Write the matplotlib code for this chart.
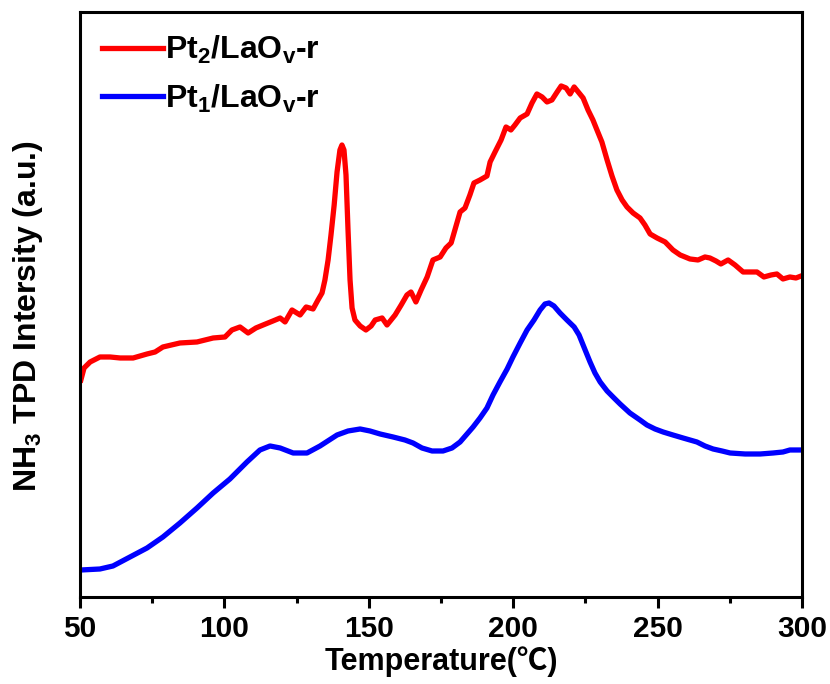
import matplotlib
matplotlib.use("Agg")
import matplotlib.pyplot as plt
from matplotlib.ticker import MultipleLocator

plt.rcParams['font.family'] = ['Liberation Sans', 'DejaVu Sans']
plt.rcParams['font.weight'] = 'bold'
plt.rcParams['mathtext.fontset'] = 'custom'
plt.rcParams['mathtext.rm'] = 'Liberation Sans:bold'
plt.rcParams['mathtext.it'] = 'Liberation Sans:bold'
plt.rcParams['mathtext.bf'] = 'Liberation Sans:bold'
plt.rcParams['mathtext.default'] = 'bf'

# Pt2/LaOv-r
t_pt2 = [50.3, 51.4, 53.5, 56.9, 60.4, 63.9, 68.4, 73.2, 76.0, 78.7, 84.6, 90.5, 96.1, 100.2,
         102.6, 105.4, 108.2, 110.9, 113.4, 116.8, 119.3, 121.0, 123.4, 126.2, 128.3, 130.7,
         132.4, 133.8, 134.8, 135.9, 136.9, 138.0, 139.0, 140.0, 140.7, 141.4, 142.1, 142.8,
         143.5, 144.2, 145.2, 147.0, 149.0, 150.8, 152.2, 154.6, 156.3, 159.1, 161.2, 163.2,
         164.6, 166.3, 168.1, 170.2, 172.2, 174.7, 176.7, 178.5, 179.8, 181.6, 183.3, 185.0,
         186.4, 188.5, 190.9, 192.0, 193.7, 195.8, 197.5, 199.2, 200.6, 202.4, 204.8, 206.5,
         208.2, 210.0, 211.7, 213.4, 215.2, 216.6, 218.3, 219.7, 221.1, 222.8, 224.2, 225.9,
         227.6, 229.0, 230.7, 232.5, 234.2, 235.9, 237.7, 239.4, 241.5, 243.9, 245.6, 247.4,
         249.8, 252.6, 255.3, 257.8, 261.2, 264.0, 266.4, 268.1, 270.2, 271.9, 274.4, 276.8,
         279.6, 282.0, 284.4, 286.8, 289.3, 291.3, 293.4, 295.8, 297.9, 299.7]
i_pt2 = [220, 232, 238, 243, 243, 242, 242, 246, 248, 253, 257, 258, 262, 263,
         270, 273, 267, 272, 275, 279, 282, 278, 290, 285, 293, 291,
         300, 307, 320, 340, 365, 395, 428, 450, 455, 450, 425, 370,
         320, 292, 280, 274, 270, 274, 280, 282, 275, 285, 295, 305,
         308, 298, 310, 323, 340, 343, 352, 357, 370, 388, 392, 405,
         417, 420, 424, 438, 448, 460, 473, 470, 475, 482, 486, 497,
         506, 503, 498, 500, 508, 514, 512, 506, 513, 507, 502, 490,
         480, 470, 458, 440, 424, 410, 400, 393, 387, 382, 375, 366,
         362, 358, 350, 345, 341, 340, 343, 342, 339, 336, 340, 335,
         328, 328, 328, 323, 325, 326, 321, 323, 322, 324]

# Pt1/LaOv-r
t_pt1 = [50.3, 56.9, 61.4, 67.3, 73.2, 78.7, 84.6, 90.5, 96.1, 101.9, 107.8, 112.3, 115.8,
         119.3, 123.8, 128.6, 133.1, 139.0, 142.8, 147.0, 150.4, 153.9, 158.4, 162.5, 165.3,
         168.4, 171.9, 175.7, 178.8, 181.6, 186.1, 188.5, 190.9, 193.0, 195.4, 197.9, 199.9,
         202.4, 204.8, 207.2, 209.3, 211.0, 212.4, 214.1, 216.2, 218.6, 221.1, 222.8, 224.9,
         226.6, 228.3, 230.1, 232.5, 234.9, 237.0, 240.4, 243.9, 246.3, 249.1, 251.9, 255.3,
         258.8, 263.6, 266.4, 269.2, 272.3, 275.1, 280.3, 285.5, 290.0, 293.4, 295.8, 299.3]
i_pt1 = [30, 31, 34, 43, 52, 63, 77, 92, 107, 121, 138, 150, 154,
         152, 147, 147, 154, 165, 169, 171, 169, 166, 163, 160, 157,
         152, 149, 149, 152, 158, 173, 182, 192, 205, 218, 231, 243,
         257, 270, 280, 290, 296, 297, 294, 287, 280, 273, 265, 250,
         238, 227, 218, 209, 202, 196, 187, 180, 175, 171, 168, 165,
         162, 158, 154, 151, 149, 147, 146, 146, 147, 148, 150, 150]

labels = [r'Pt$_2$/LaO$_v$-r', r'Pt$_1$/LaO$_v$-r']
xticks = [50, 100, 150, 200, 250, 300]

fig = plt.figure(figsize=(8.3, 6.84), dpi=100)
ax = fig.add_axes([0.0964, 0.1272, 0.8699, 0.8553])

ax.plot(t_pt2, i_pt2, color='#ff0000', lw=3.8, label=labels[0], solid_joinstyle='round')
ax.plot(t_pt1, i_pt1, color='#0000ff', lw=3.8, label=labels[1], solid_joinstyle='round')

ax.set_xlim(50, 300)
ax.set_ylim(3, 588)
ax.set_xticks(xticks)
ax.set_xticklabels([str(v) for v in xticks])
ax.xaxis.set_minor_locator(MultipleLocator(25))
ax.set_yticks([])

for s in ax.spines.values():
    s.set_linewidth(2.2)
ax.tick_params(axis='x', which='major', direction='out', length=8, width=2.2,
               labelsize=21.5, pad=5)
ax.tick_params(axis='x', which='minor', direction='out', length=4, width=2.2)
for lab in ax.get_xticklabels():
    lab.set_fontweight('bold')

ax.set_xlabel('Temperature(℃)', fontsize=22, fontweight='bold',
              family=['Liberation Sans', 'Noto Sans CJK SC', 'DejaVu Sans'], labelpad=2)
ax.set_ylabel(r'NH$_3$ TPD Intersity (a.u.)', fontsize=23, fontweight='bold')
ax.yaxis.set_label_coords(-0.048, 0.48)

leg = ax.legend(loc='upper left', frameon=False, fontsize=23, handlelength=1.9,
                handletextpad=0.05, borderaxespad=0.3, labelspacing=0.5,
                bbox_to_anchor=(0.0, 1.0))

fig.savefig('out.png', dpi=100)
